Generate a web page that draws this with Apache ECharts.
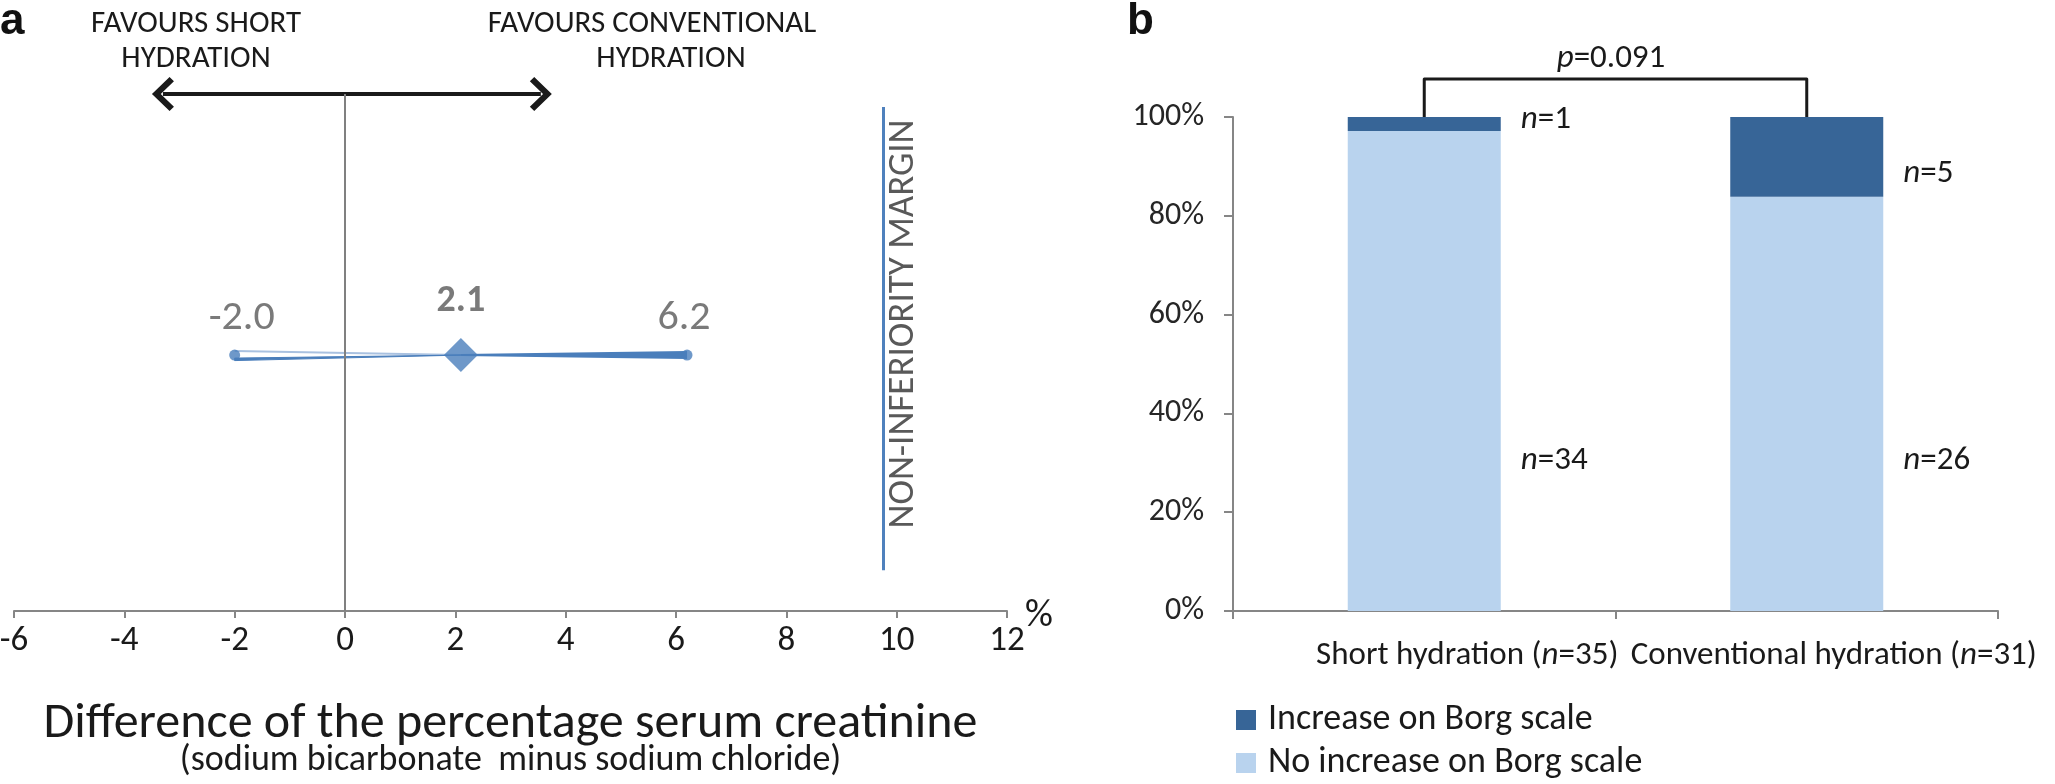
<!DOCTYPE html>
<html><head><meta charset="utf-8">
<script src="https://cdn.jsdelivr.net/npm/echarts@6/dist/echarts.min.js"></script>
<style>html,body{margin:0;padding:0;background:#fff}#c{width:2055px;height:784px}</style>
</head><body><div id="c"></div>
<script>
// ---------- data ----------
const ciLabels = ['-2.0', '2.1', '6.2'];
const ciValues = [-2.0, 2.1, 6.2];          // lower CI, point estimate, upper CI
const marginValue = 9.75;                    // non-inferiority margin (as drawn)
const xTickValues = [-6, -4, -2, 0, 2, 4, 6, 8, 10, 12];
const categories = ['Short hydration', 'Conventional hydration'];
const groupTotals = [35, 31];
const increaseCounts = [1, 5];
const noIncreaseCounts = [34, 26];
const yTickLabels = ['0%', '20%', '40%', '60%', '80%', '100%'];
const pValue = '0.091';

// ---------- style ----------
const FONT = 'Carlito, Lato, sans-serif';
const AXIS = '#868686';
const BLUE = '#4a7ebb';
const DARK = '#376597';
const LIGHT = '#b9d3ee';
const TXT = '#1a1a1a';
const GRAY = '#595959';
const rowY = 4.95;            // vertical level of the CI row in panel a
const barLabelOffsets = {inc: [[15, -4], [15, 17]], no: [[15, 90], [15, 57]]};
const ARROW = 'path://M0,0 L12,12 L9,15 L0,6 L-9,15 L-12,12 Z';

const incPct = increaseCounts.map((v, i) => v / groupTotals[i] * 100);
const noPct = noIncreaseCounts.map((v, i) => v / groupTotals[i] * 100);

const chart = echarts.init(document.getElementById('c'));

const legendCommon = {
  orient: 'vertical', left: 1236, itemWidth: 20, itemHeight: 20,
  icon: 'rect', selectedMode: false, padding: 0,
  textStyle: {fontFamily: FONT, fontSize: 36, lineHeight: 36, color: TXT, padding: [0, 0, 0, 7]}
};

const option = {
  animation: false,
  backgroundColor: '#ffffff',
  grid: [
    {left: 14, width: 993, top: 94, height: 517, outerBoundsMode: 'none'},
    {left: 1233, width: 765, top: 117, height: 494, outerBoundsMode: 'none'}
  ],
  xAxis: [
    {
      gridIndex: 0, type: 'value', min: -6, max: 12, interval: 2,
      axisLine: {show: true, onZero: false, lineStyle: {color: AXIS, width: 2}},
      axisTick: {show: true, length: 7, lineStyle: {color: AXIS, width: 2}},
      splitLine: {show: false},
      axisLabel: {fontFamily: FONT, fontSize: 35, color: TXT, margin: 13,
        formatter: v => xTickValues.includes(v) ? String(v) : ''},
      name: '{t|Difference of the percentage serum creatinine}\n{s|(sodium bicarbonate  minus sodium chloride)}',
      nameLocation: 'middle', nameGap: 93,
      nameTextStyle: {rich: {
        t: {fontFamily: FONT, fontSize: 50, lineHeight: 40, color: TXT},
        s: {fontFamily: FONT, fontSize: 36, lineHeight: 34, color: TXT}
      }}
    },
    {
      gridIndex: 1, type: 'category',
      data: categories.map((c, i) => ({value: c, textStyle: {padding: [0, 0, 0, i === 0 ? 86 : 54]}})),
      axisLine: {show: true, lineStyle: {color: AXIS, width: 2}},
      axisTick: {show: true, length: 8, alignWithLabel: false, lineStyle: {color: AXIS, width: 2}},
      axisLabel: {interval: 0, margin: 28, fontFamily: FONT, fontSize: 33, color: TXT,
        formatter: (v, i) => v + ' ({i|n}=' + groupTotals[i] + ')',
        rich: {i: {fontStyle: 'italic', fontFamily: FONT, fontSize: 33, color: TXT}}}
    }
  ],
  yAxis: [
    {gridIndex: 0, type: 'value', min: 0, max: 10, show: false},
    {
      gridIndex: 1, type: 'value', min: 0, max: 100, interval: 20,
      axisLine: {show: true, lineStyle: {color: AXIS, width: 2}},
      axisTick: {show: true, length: 9, lineStyle: {color: AXIS, width: 2}},
      splitLine: {show: false},
      axisLabel: {margin: 29, fontFamily: FONT, fontSize: 32, color: '#262626',
        formatter: v => yTickLabels[Math.round(v / 20)]}
    }
  ],
  legend: [
    Object.assign({data: ['Increase on Borg scale'], top: 702}, legendCommon),
    Object.assign({data: ['No increase on Borg scale'], top: 745}, legendCommon)
  ],
  series: [
    // ---- panel a ----
    {
      type: 'custom', xAxisIndex: 0, yAxisIndex: 0, z: 2,
      data: [[ciValues[0], ciValues[1], ciValues[2], rowY]],
      renderItem: function (params, api) {
        const l = api.coord([api.value(0), api.value(3)]);
        const p = api.coord([api.value(1), api.value(3)]);
        const u = api.coord([api.value(2), api.value(3)]);
        const h = 4;
        return {type: 'group', children: [
          {type: 'line', shape: {x1: l[0], y1: l[1] - h, x2: p[0], y2: p[1]}, style: {stroke: '#a9c1e0', lineWidth: 2}},
          {type: 'polygon', shape: {points: [[l[0], l[1] + h - 1], [p[0], p[1]], [l[0], l[1] + h + 1.5]]}, style: {fill: BLUE, stroke: BLUE, lineWidth: 1}},
          {type: 'polygon', shape: {points: [[p[0], p[1] - 1], [u[0], u[1] - h], [u[0], u[1] + h], [p[0], p[1] + 1]]}, style: {fill: BLUE}}
        ]};
      },
      markLine: {
        silent: true, animation: false,
        data: [
          [{coord: [-3.3, 10], symbol: ARROW, symbolSize: [34, 22]},
           {coord: [3.55, 10], symbol: ARROW, symbolSize: [34, 22],
            lineStyle: {color: TXT, width: 4, type: 'solid'}}],
          [{coord: [0, 10], symbol: 'none'}, {coord: [0, 0], symbol: 'none', lineStyle: {color: '#808080', width: 2, type: 'solid'}}],
          [{coord: [marginValue, 9.75], symbol: 'none'}, {coord: [marginValue, 0.79], symbol: 'none', lineStyle: {color: '#4f81bd', width: 3, type: 'solid'}}]
        ],
        label: {show: false},
        lineStyle: {type: 'solid'},
        itemStyle: {color: TXT}
      }
    },
    {
      type: 'scatter', xAxisIndex: 0, yAxisIndex: 0, z: 3,
      data: ciValues.map((v, i) => ({
        value: [v, rowY],
        symbol: i === 1 ? 'diamond' : 'circle',
        symbolSize: i === 1 ? [34, 34] : 11,
        label: {
          show: true, position: 'top', formatter: ciLabels[i],
          distance: i === 1 ? 18 : 10,
          offset: i === 0 ? [7, 0] : (i === 2 ? [-3, 0] : [0, 0]),
          fontFamily: FONT, fontSize: i === 1 ? 38 : 42, fontWeight: i === 1 ? 'bold' : 'normal', color: GRAY
        }
      })),
      itemStyle: {color: BLUE}
    },
    // ---- panel b ----
    {
      name: 'No increase on Borg scale', type: 'bar', stack: 'borg', xAxisIndex: 1, yAxisIndex: 1,
      barWidth: '40%', itemStyle: {color: LIGHT},
      data: noPct.map((v, i) => ({value: v, label: {show: true, position: 'right', distance: 5, offset: barLabelOffsets.no[i],
        formatter: '{i|n}=' + noIncreaseCounts[i]}})),
      label: {fontFamily: FONT, fontSize: 33, color: TXT, rich: {i: {fontStyle: 'italic', fontFamily: FONT, fontSize: 33, color: TXT}}}
    },
    {
      name: 'Increase on Borg scale', type: 'bar', stack: 'borg', xAxisIndex: 1, yAxisIndex: 1,
      barWidth: '40%', itemStyle: {color: DARK},
      data: incPct.map((v, i) => ({value: v, label: {show: true, position: 'right', distance: 5, offset: barLabelOffsets.inc[i],
        formatter: '{i|n}=' + increaseCounts[i]}})),
      label: {fontFamily: FONT, fontSize: 33, color: TXT, rich: {i: {fontStyle: 'italic', fontFamily: FONT, fontSize: 33, color: TXT}}}
    },
    {
      type: 'line', xAxisIndex: 1, yAxisIndex: 1, clip: false, symbol: 'none', silent: true, z: 5,
      data: [[0, 100], [0, 107.7], [1, 107.7], [1, 100]],
      lineStyle: {color: TXT, width: 3, join: 'round'}
    }
  ],
  graphic: [
    {type: 'text', x: 0, y: 0, style: {text: 'a', font: 'bold 44px "Liberation Sans", Arial, sans-serif', fill: '#111'}},
    {type: 'text', x: 1127, y: 0, style: {text: 'b', font: 'bold 44px "Liberation Sans", Arial, sans-serif', fill: '#111'}},
    {type: 'text', x: 196, y: 24, style: {text: 'FAVOURS SHORT', font: '31px ' + FONT, fill: TXT, align: 'center', verticalAlign: 'middle'}},
    {type: 'text', x: 196, y: 59, style: {text: 'HYDRATION', font: '31px ' + FONT, fill: TXT, align: 'center', verticalAlign: 'middle'}},
    {type: 'text', x: 652, y: 24, style: {text: 'FAVOURS CONVENTIONAL', font: '31px ' + FONT, fill: TXT, align: 'center', verticalAlign: 'middle'}},
    {type: 'text', x: 671, y: 59, style: {text: 'HYDRATION', font: '31px ' + FONT, fill: TXT, align: 'center', verticalAlign: 'middle'}},
    {type: 'text', x: 904, y: 324, rotation: Math.PI / 2,
      style: {text: 'NON-INFERIORITY MARGIN', font: '37px ' + FONT, fill: GRAY, align: 'center', verticalAlign: 'middle'}},
    {type: 'text', x: 1039, y: 616, style: {text: '%', font: '39px ' + FONT, fill: TXT, align: 'center', verticalAlign: 'middle'}},
    {type: 'text', x: 1611, y: 59, style: {text: '{i|p}=' + pValue, font: '33px ' + FONT, fill: TXT, align: 'center', verticalAlign: 'middle',
      rich: {i: {fontStyle: 'italic', fontFamily: FONT, fontSize: 33, fill: TXT}}}}
  ]
};
chart.setOption(option);
</script>
</body></html>
